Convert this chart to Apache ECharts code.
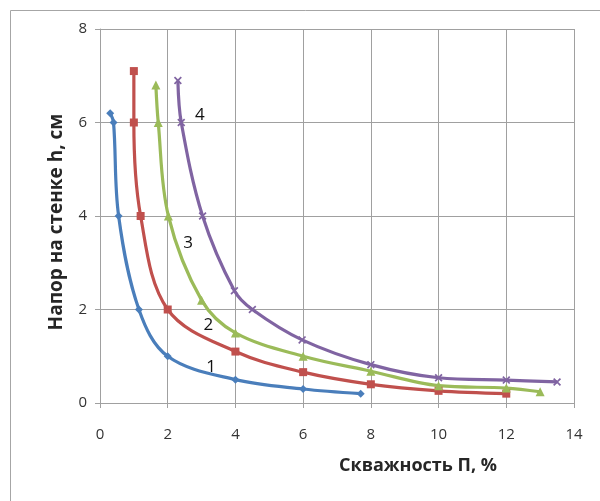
<!DOCTYPE html>
<html><head><meta charset="utf-8">
<script src="https://cdn.jsdelivr.net/npm/echarts@6/dist/echarts.min.js"></script>
<style>html,body{margin:0;padding:0;background:#fff}#c{width:600px;height:501px}</style>
</head><body><div id="c"></div>
<script>
const s1 = [[0.3,6.2],[0.4,6.0],[0.55,4.0],[1.15,2.0],[2,1.0],[4,0.5],[6,0.3],[7.7,0.2]];
const s2 = [[1.0,7.1],[1.0,6.0],[1.2,4.0],[2,2.0],[4,1.1],[6,0.66],[8,0.4],[10,0.26],[12,0.2]];
const s3 = [[1.65,6.8],[1.72,6.0],[2.02,4.0],[3,2.2],[4,1.5],[6,1.0],[8,0.68],[10,0.37],[12,0.32],[13,0.24]];
const s4 = [[2.3,6.9],[2.4,6.0],[3.03,4.0],[3.97,2.4],[4.5,2.0],[5.97,1.35],[8,0.82],[10,0.54],[12,0.49],[13.5,0.45]];
const curveLabels = [['1',3.28,0.77],['2',3.2,1.67],['3',2.6,3.42],['4',2.95,6.16]];
const xTitle = 'Скважность П, %';
const yTitle = 'Напор на стенке h, см';

const font = '"Open Sans", "DejaVu Sans", sans-serif';
const crossPath = 'path://M0,1.5L1.5,0L5,3.5L8.5,0L10,1.5L6.5,5L10,8.5L8.5,10L5,6.5L1.5,10L0,8.5L3.5,5Z';
function line(data, color, symbol, size){
  return {type:'line', data, smooth:0.35, symbol, symbolSize:size, showSymbol:true,
    lineStyle:{color, width:3.2}, itemStyle:{color, borderWidth:0}, z:3, silent:true};
}
const chart = echarts.init(document.getElementById('c'));
chart.setOption({
  animation:false,
  grid:{left:100, right:26, top:29, bottom:98},
  xAxis:{type:'value', min:0, max:14, interval:2,
    axisLine:{show:true, lineStyle:{color:'#a0a0a0'}},
    axisTick:{show:true, length:5, lineStyle:{color:'#a0a0a0'}},
    axisLabel:{color:'#333', fontSize:15, fontFamily:font, margin:24},
    splitLine:{show:true, lineStyle:{color:'#a0a0a0', width:1}}},
  yAxis:{type:'value', min:0, max:8, interval:2,
    axisLine:{show:true, lineStyle:{color:'#a0a0a0'}},
    axisTick:{show:true, length:5, lineStyle:{color:'#a0a0a0'}},
    axisLabel:{color:'#333', fontSize:15, fontFamily:font, margin:13},
    splitLine:{show:true, lineStyle:{color:'#a0a0a0', width:1}}},
  series:[
    line(s1,'#4a7ebb','diamond',8),
    line(s2,'#c0504d','rect',8),
    line(s3,'#9bbb59','triangle',9),
    line(s4,'#8064a2',crossPath,8),
    {type:'scatter', symbol:'circle', symbolSize:2, itemStyle:{color:'rgba(0,0,0,0)'}, silent:true, z:5,
     data: curveLabels.map(d=>({value:[d[1],d[2]], name:d[0]})),
     label:{show:true, position:'inside', formatter:p=>p.name, color:'#111', opacity:1, textBorderWidth:0, fontSize:17, fontFamily:font}}
  ],
  graphic:[
    {type:'rect', shape:{x:10.5,y:10.5,width:600,height:520}, style:{fill:'none', stroke:'#a6a6a6', lineWidth:1}, silent:true},
    {type:'text', x:418, y:466, style:{text:xTitle, font:'bold 18px '+font, fill:'#262626', textAlign:'center', textVerticalAlign:'middle'}},
    {type:'text', x:57, y:222, rotation:Math.PI/2, style:{text:yTitle, font:'bold 19px '+font, fill:'#262626', textAlign:'center', textVerticalAlign:'middle'}}
  ]
});
</script></body></html>
